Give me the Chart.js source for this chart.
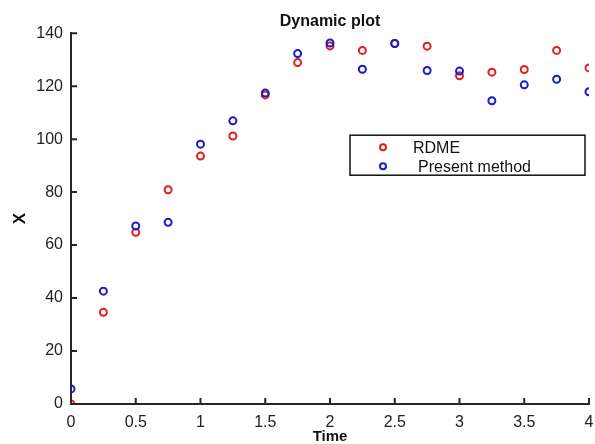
<!DOCTYPE html>
<html>
<head>
<meta charset="utf-8">
<script src="https://cdn.jsdelivr.net/npm/chart.js@4.4.0/dist/chart.umd.min.js"></script>
<style>
    html, body { margin: 0; padding: 0; background: #fff; }
    #wrap { width: 595px; height: 444px; }
</style>
</head>
<body>
<div id="wrap"><canvas id="dynChart"></canvas></div>
<script>
const times = [0, 0.25, 0.5, 0.75, 1, 1.25, 1.5, 1.75, 2, 2.25, 2.5, 2.75, 3, 3.25, 3.5, 3.75, 4]
const rdme = [0, 34.6, 64.8, 80.9, 93.6, 101.2, 116.7, 128.9, 135.2, 133.5, 136.1, 135.1, 123.9, 125.3, 126.3, 133.5, 126.9]
const present = [5.7, 42.6, 67.2, 68.6, 98.1, 106.9, 117.4, 132.3, 136.3, 126.4, 136.1, 125.9, 125.7, 114.5, 120.5, 122.6, 117.9]
const xTicks = [0, 0.5, 1, 1.5, 2, 2.5, 3, 3.5, 4]
const yTicks = [0, 20, 40, 60, 80, 100, 120, 140]

const red = 'rgb(225,30,30)'
const blue = 'rgb(25,25,205)'
const axisColor = '#262626'
const font = 'Liberation Sans, Arial, sans-serif'

const toPoints = (ys) => times.map((t, i) => ({ x: t, y: ys[i] }))

// MATLAB style ticks pointing into the plot
const inwardTicks = {
    id: 'inwardTicks',
    afterDatasetsDraw(chart) {
        const { ctx, chartArea, scales } = chart
        ctx.save()
        ctx.strokeStyle = axisColor
        ctx.lineWidth = 2
        ctx.beginPath()
        xTicks.forEach(v => {
            const px = scales.x.getPixelForValue(v)
            ctx.moveTo(px, chartArea.bottom)
            ctx.lineTo(px, chartArea.bottom - 6)
        })
        yTicks.forEach(v => {
            const py = scales.y.getPixelForValue(v)
            ctx.moveTo(chartArea.left, py)
            ctx.lineTo(chartArea.left + 6, py)
        })
        ctx.stroke()
        ctx.restore()
    }
}

// boxed legend inside the plot
const boxLegend = {
    id: 'boxLegend',
    afterDraw(chart) {
        const { ctx, chartArea } = chart
        const x0 = chartArea.left + 279
        const y0 = chartArea.top + 102
        const w = 235
        const h = 40
        ctx.save()
        ctx.fillStyle = '#fff'
        ctx.fillRect(x0, y0, w, h)
        ctx.strokeStyle = '#111'
        ctx.lineWidth = 1.5
        ctx.strokeRect(x0, y0, w, h)
        const rows = [
            { label: chart.data.datasets[0].label, color: chart.data.datasets[0].borderColor, dx: 63 },
            { label: chart.data.datasets[1].label, color: chart.data.datasets[1].borderColor, dx: 68 }
        ]
        ctx.font = '16px ' + font
        ctx.textBaseline = 'middle'
        rows.forEach((r, i) => {
            const cy = y0 + 12 + i * 19
            ctx.beginPath()
            ctx.arc(x0 + 33, cy, 3, 0, Math.PI * 2)
            ctx.strokeStyle = r.color
            ctx.lineWidth = 2
            ctx.stroke()
            ctx.fillStyle = '#111'
            ctx.fillText(r.label, x0 + r.dx, cy + 1)
        })
        ctx.restore()
    }
}

new Chart(document.getElementById('dynChart'), {
    type: 'scatter',
    data: {
        datasets: [{
            label: 'RDME',
            data: toPoints(rdme),
            borderColor: red,
            backgroundColor: 'rgba(0,0,0,0)',
            pointRadius: 3.5,
            pointBorderWidth: 2,
            order: 2
        }, {
            label: 'Present method',
            data: toPoints(present),
            borderColor: blue,
            backgroundColor: 'rgba(0,0,0,0)',
            pointRadius: 3.5,
            pointBorderWidth: 2,
            order: 1
        }]
    },
    options: {
        responsive: true,
        maintainAspectRatio: false,
        animation: false,
        layout: { padding: { left: 0, right: 5, top: 0, bottom: 0 } },
        plugins: {
            legend: { display: false },
            tooltip: { enabled: false },
            title: {
                display: true,
                fullSize: false,
                text: 'Dynamic plot',
                color: '#111',
                font: { family: font, size: 16, weight: 'bold', lineHeight: 1.2 },
                padding: { top: 12, bottom: 2 }
            }
        },
        scales: {
            x: {
                type: 'linear',
                min: 0,
                max: 4,
                afterBuildTicks: (scale) => { scale.ticks = xTicks.map(v => ({ value: v })) },
                afterFit: (scale) => {
                    scale.height = 40
                    scale.paddingLeft = 0
                    scale.paddingRight = 0
                },
                grid: { display: false, drawTicks: false },
                border: { display: true, color: axisColor, width: 2 },
                ticks: {
                    color: '#222',
                    padding: 9,
                    font: { family: font, size: 16 },
                    maxRotation: 0,
                    callback: (v) => String(v)
                },
                title: {
                    display: true,
                    text: 'Time',
                    color: '#111',
                    padding: { top: 0, bottom: -2 },
                    font: { family: font, size: 15, weight: 'bold' }
                }
            },
            y: {
                min: 0,
                max: 140,
                afterBuildTicks: (scale) => { scale.ticks = yTicks.map(v => ({ value: v })) },
                afterFit: (scale) => { scale.width = 71 },
                grid: { display: false, drawTicks: false },
                border: { display: true, color: axisColor, width: 2 },
                ticks: { color: '#222', padding: 8, font: { family: font, size: 16 } },
                title: {
                    display: true,
                    text: 'X',
                    color: '#111',
                    padding: { top: 10, bottom: 0 },
                    font: { family: font, size: 17, weight: 'bold' }
                }
            }
        }
    },
    plugins: [inwardTicks, boxLegend]
})
</script>
</body>
</html>
